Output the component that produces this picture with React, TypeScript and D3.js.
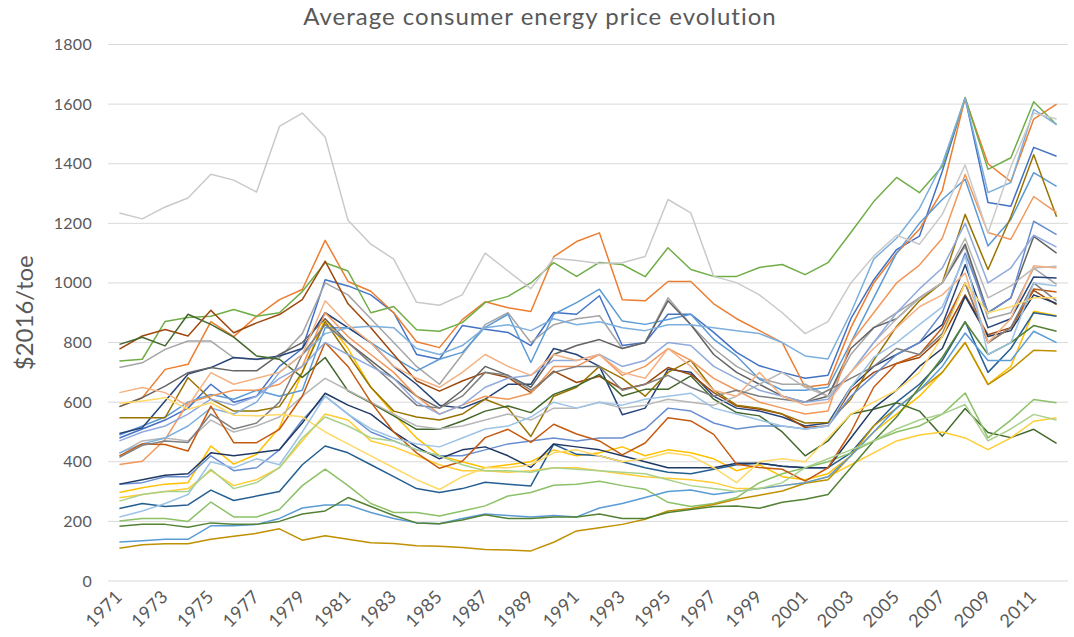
import * as d3 from "d3";

// categories
const years = d3.range(1971, 2013);
const yTicks = [0, 200, 400, 600, 800, 1000, 1200, 1400, 1600, 1800];

// series values, 1971..2012 ($2016/toe)
const sLightGray = [1235,1215,1255,1285,1365,1345,1305,1525,1570,1490,1210,1130,1080,935,925,960,1100,1040,981,1083,1075,1065,1068,1089,1280,1235,1022,1001,960,900,830,870,1000,1090,1160,1130,1230,1396,1168,1390,1570,1550];
const sGreen = [738,744,871,884,888,911,888,900,971,1068,1040,900,921,843,838,867,934,955,1000,1068,1022,1069,1062,1021,1118,1045,1022,1022,1052,1062,1028,1068,1169,1273,1354,1303,1391,1622,1381,1420,1608,1531];
const sOrange = [585,615,710,727,870,820,888,944,978,1143,1005,972,900,803,783,877,937,917,904,1088,1139,1168,944,940,1005,1005,930,880,840,800,650,660,850,1000,1100,1180,1310,1620,1400,1340,1550,1600];
const sSky = [490,520,550,600,626,610,640,620,640,850,850,800,750,705,744,767,851,895,733,895,934,979,872,861,877,895,811,755,677,640,640,650,800,950,1100,1200,1280,1348,1124,1213,1370,1324];
const sBlue = [480,510,540,580,660,600,620,720,780,1011,990,960,900,760,744,857,845,834,790,901,895,957,790,800,895,895,834,767,722,700,680,690,880,1010,1112,1157,1375,1620,1270,1257,1455,1425];
const sPaleBlue = [430,460,480,520,580,560,600,700,760,830,850,855,850,780,760,790,850,860,840,880,860,870,850,840,860,860,850,840,830,800,755,745,900,1080,1150,1250,1400,1620,1303,1337,1582,1531];
const sPeach = [632,649,632,587,699,660,680,700,760,940,860,800,720,680,650,700,760,720,690,760,740,760,700,680,780,720,640,620,700,620,590,600,700,780,850,920,960,1033,800,880,1058,1050];
const sSalmon = [391,402,475,598,621,640,640,660,720,900,820,760,700,620,560,590,620,610,630,720,720,760,690,720,780,740,680,640,600,580,560,570,800,900,1000,1060,1150,1364,1169,1146,1290,1236];
const sRust = [420,460,458,436,587,464,464,509,620,800,720,600,500,430,378,402,481,509,465,526,493,470,423,463,548,537,492,392,381,375,335,380,500,650,730,760,850,1000,800,850,980,970];
const sBrown = [778,822,844,822,908,833,866,894,944,1073,930,850,760,671,637,671,700,683,632,704,666,687,643,660,716,693,632,587,576,560,515,520,640,700,730,750,820,960,826,850,975,927];
const sGray = [716,732,777,805,805,749,743,749,830,1000,960,880,800,720,660,760,860,900,800,860,880,890,780,800,950,860,780,720,680,660,660,620,760,850,900,950,1000,1123,880,900,1050,995];
const sDarkGray = [585,615,654,699,716,705,705,760,800,880,800,740,680,620,580,640,720,690,650,760,790,810,780,800,940,860,760,700,660,620,600,620,780,850,880,950,1000,1130,900,950,1156,1100];
const sNavy = [495,514,604,694,716,750,744,755,780,900,850,800,720,660,590,580,610,660,660,780,760,720,558,580,710,700,620,580,570,550,520,530,650,720,760,800,860,1061,850,880,1020,1017];
const sDeepNavy = [325,340,355,360,430,420,430,440,530,630,590,560,500,450,410,440,450,420,381,460,450,440,420,400,380,380,380,395,395,385,380,380,480,580,640,720,780,955,820,840,960,931];
const sSteel = [243,260,250,255,305,270,285,300,390,453,430,390,350,310,297,310,331,325,319,459,425,420,400,380,365,360,375,390,395,385,380,380,430,520,600,660,740,870,700,780,900,888];
const sLightGreen = [201,210,210,200,265,215,215,240,320,375,320,260,230,230,218,235,252,285,297,321,325,335,320,308,264,250,260,280,330,360,380,400,430,470,500,520,560,631,480,540,609,598];
const sMoss = [184,190,190,180,195,190,190,200,225,235,280,250,220,195,192,205,222,210,210,215,215,225,210,210,230,240,250,252,244,264,274,290,380,470,550,650,750,869,760,800,857,838];
const sForest = [794,818,789,895,861,818,755,744,683,750,638,598,554,509,509,537,570,587,565,626,654,693,621,643,643,688,610,565,554,500,420,470,560,576,598,570,486,579,498,481,509,462];
const sYellow = [297,313,325,330,453,392,425,515,700,880,780,650,560,480,420,400,380,390,400,440,420,430,450,420,440,430,410,370,390,350,340,360,420,500,560,620,700,800,660,720,905,890];
const sButter = [596,604,615,576,598,556,554,559,551,500,460,420,380,340,307,350,380,380,390,430,440,420,400,410,430,420,380,330,400,410,400,480,560,600,640,700,820,1000,900,920,950,950];
const sSun = [279,290,300,310,370,320,340,380,470,560,540,470,450,420,390,370,370,365,370,380,380,370,360,350,345,340,330,310,310,320,330,350,390,430,470,490,500,480,441,480,536,548];
const sMint = [268,290,300,300,375,310,330,380,480,550,520,480,470,440,420,390,370,370,365,380,375,370,365,360,340,320,310,300,310,330,380,410,440,470,510,540,560,592,470,510,559,540];
const sAqua = [131,135,140,140,185,185,190,210,245,255,255,230,210,195,192,210,225,220,215,220,215,245,260,280,300,305,290,300,310,320,330,350,420,500,580,640,720,832,740,740,838,800];
const sIce = [215,235,260,290,400,380,410,390,500,620,560,510,480,460,450,480,510,520,550,600,580,600,590,610,620,630,580,560,540,520,510,520,650,750,800,860,920,1090,760,800,1000,990];
const sCornflower = [325,330,350,350,420,370,380,440,540,620,560,500,470,440,420,420,440,460,470,480,470,480,480,510,580,570,530,510,520,520,510,520,620,690,760,800,900,1100,900,950,1207,1162];
const sSilver = [428,470,480,470,540,500,520,550,620,680,640,600,560,520,510,520,540,560,540,580,580,600,580,590,610,600,590,620,660,700,650,620,700,800,880,950,1000,1150,950,990,1050,1056];
const sSlate = [415,455,470,465,560,510,530,600,760,860,800,730,660,590,580,620,700,690,640,700,720,720,640,660,690,650,620,640,620,610,600,640,680,720,780,760,830,1000,800,850,1000,940];
const sGold = [110,122,125,125,140,150,160,175,137,152,140,128,126,118,117,112,106,104,101,130,168,179,190,207,235,243,257,274,288,302,328,340,420,520,580,640,700,800,659,709,774,772];
const sOlive = [548,548,548,682,610,570,570,585,700,870,760,650,570,550,540,560,610,580,485,620,650,720,680,620,700,740,640,590,580,560,530,532,610,740,854,940,1001,1230,1045,1222,1430,1222];
const sPeriwinkle = [470,500,520,560,610,590,620,680,720,800,760,720,680,600,560,590,650,680,690,740,740,760,720,740,800,790,720,680,640,620,600,610,700,800,900,980,1050,1200,1000,1050,1160,1120];

const series = [
  { values: sBlue, color: "#4472C4" },
  { values: sOrange, color: "#ED7D31" },
  { values: sGray, color: "#A5A5A5" },
  { values: sYellow, color: "#FFC000" },
  { values: sSky, color: "#5B9BD5" },
  { values: sGreen, color: "#70AD47" },
  { values: sNavy, color: "#264478" },
  { values: sBrown, color: "#9E480E" },
  { values: sDarkGray, color: "#636363" },
  { values: sOlive, color: "#997300" },
  { values: sSteel, color: "#255E91" },
  { values: sForest, color: "#43682B" },
  { values: sCornflower, color: "#698ED0" },
  { values: sSalmon, color: "#F1975A" },
  { values: sSilver, color: "#B7B7B7" },
  { values: sSun, color: "#FFCD33" },
  { values: sPaleBlue, color: "#7CAFDD" },
  { values: sLightGreen, color: "#8CC168" },
  { values: sDeepNavy, color: "#203864" },
  { values: sRust, color: "#C55A11" },
  { values: sSlate, color: "#7F7F7F" },
  { values: sGold, color: "#BF9000" },
  { values: sAqua, color: "#5B9BD5" },
  { values: sMoss, color: "#548235" },
  { values: sPeriwinkle, color: "#8FAADC" },
  { values: sPeach, color: "#F4B183" },
  { values: sLightGray, color: "#C9C9C9" },
  { values: sButter, color: "#FFD966" },
  { values: sIce, color: "#9DC3E6" },
  { values: sMint, color: "#A9D18E" },
];

const W = 1074;
const H = 637;
const font = "Lato, 'Open Sans', sans-serif";
const textColor = "#595959";

export default function App() {
  const x = d3.scalePoint<number>().domain(years).range([108, 1068]).padding(0.5);
  const y = d3.scaleLinear().domain([0, 1800]).range([581, 44.5]);

  const line = d3
    .line<number>()
    .x((_, i) => x(years[i]) as number)
    .y((d) => y(d));

  return (
    <svg
      width={W}
      height={H}
      style={{ position: "absolute", left: 0, top: 0, background: "#fff", fontFamily: font }}
    >
      <text
        x={540}
        y={25}
        textAnchor="middle"
        fontSize={24}
        letterSpacing={1}
        fill={textColor}
      >
        Average consumer energy price evolution
      </text>

      {/* gridlines */}
      {yTicks.map((t) => (
        <line key={t} x1={108} x2={1068} y1={y(t)} y2={y(t)} stroke="#D9D9D9" strokeWidth={1} />
      ))}

      {/* y tick labels */}
      {yTicks.map((t) => (
        <text
          key={t}
          x={92}
          y={y(t) + 5.5}
          textAnchor="end"
          fontSize={16}
          letterSpacing={0.3}
          fill={textColor}
        >
          {t}
        </text>
      ))}

      <text
        transform={`translate(33, ${(y(0) + y(1800)) / 2}) rotate(-90)`}
        textAnchor="middle"
        fontSize={24}
        fill={textColor}
      >
        $2016/toe
      </text>

      {/* x labels, every other year */}
      {years
        .filter((_, i) => i % 2 === 0)
        .map((yr) => (
          <text
            key={yr}
            transform={`translate(${(x(yr) as number) + 4}, ${598}) rotate(-45)`}
            textAnchor="end"
            fontSize={18}
            letterSpacing={0.3}
            fill={textColor}
          >
            {yr}
          </text>
        ))}

      {/* series */}
      {series.map((s, i) => (
        <path
          key={i}
          d={line(s.values) || ""}
          fill="none"
          stroke={s.color}
          strokeWidth={1.5}
          strokeLinejoin="round"
        />
      ))}
    </svg>
  );
}
